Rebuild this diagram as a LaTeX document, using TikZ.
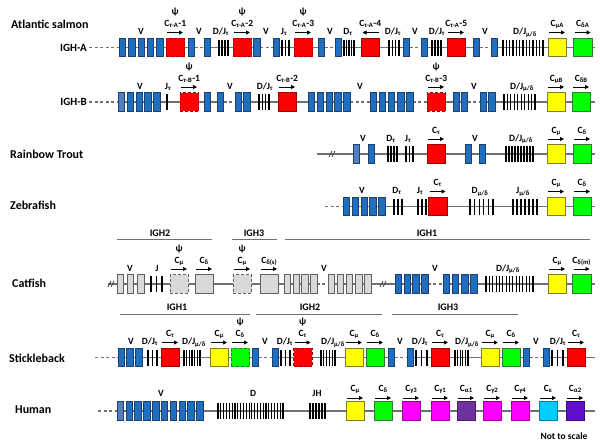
\documentclass[tikz,border=0pt]{standalone}
\usepackage{fontspec}
\setmainfont{Carlito}
\usetikzlibrary{arrows.meta}
\pgfdeclarelayer{background}
\pgfsetlayers{background,main}
\definecolor{vb}{HTML}{1F6FC0}
\definecolor{vbd}{HTML}{1F3F6F}
\definecolor{vl}{HTML}{5080BE}
\definecolor{rd}{HTML}{FF0000}
\definecolor{rdd}{HTML}{A00000}
\definecolor{yl}{HTML}{FFFF00}
\definecolor{yld}{HTML}{7F7F20}
\definecolor{gr}{HTML}{00FF00}
\definecolor{grd}{HTML}{2E7D2E}
\definecolor{gy}{HTML}{D9D9D9}
\definecolor{gyd}{HTML}{606060}
\definecolor{mg}{HTML}{FF00FF}
\definecolor{mgd}{HTML}{A000A0}
\definecolor{pa}{HTML}{7030A0}
\definecolor{pad}{HTML}{4B1E6E}
\definecolor{pb}{HTML}{6010C8}
\definecolor{pbd}{HTML}{3A0A80}
\definecolor{cy}{HTML}{00CCFF}
\definecolor{cyd}{HTML}{0080A0}
\definecolor{ln}{HTML}{707070}
\newcommand\labfont{\fontsize{9.5}{10}\selectfont\bfseries}
\newcommand\spfont{\fontsize{12}{14}\selectfont\bfseries}
\newcommand\ighfont{\fontsize{11}{13}\selectfont\bfseries}
\newcommand\hdfont{\fontsize{10}{12}\selectfont\bfseries}
\newcommand\sbx[1]{\textsubscript{#1}}
\tikzset{
 gl/.style={draw=ln, line width=1.1pt},
 dl/.style={gl, dash pattern=on 3pt off 2.5pt},
 vg/.style={draw=vbd, fill=vb, line width=0.6pt, minimum width=6.5pt, minimum height=18.5pt, inner sep=0pt, outer sep=0pt, anchor=west},
 vgl/.style={vg, fill=vl},
 gg/.style={vg, fill=gy, draw=gyd},
 cb/.style={line width=0.8pt, minimum width=18.5pt, minimum height=18.5pt, inner sep=0pt, outer sep=0pt, anchor=west},
 cr/.style={cb, fill=rd, draw=rdd},
 crp/.style={cr, densely dashed},
 cyel/.style={cb, fill=yl, draw=yld},
 cgrn/.style={cb, fill=gr, draw=grd},
 cgrnp/.style={cgrn, densely dashed},
 cgy/.style={cb, fill=gy, draw=gyd},
 cgyp/.style={cgy, densely dashed},
 cmg/.style={cb, fill=mg, draw=mgd},
 cpa/.style={cb, fill=pa, draw=pad},
 cpb/.style={cb, fill=pb, draw=pbd},
 ccy/.style={cb, fill=cy, draw=cyd},
 lab/.style={font=\labfont, inner sep=0pt, anchor=base},
 sp/.style={font=\spfont, inner sep=0pt, anchor=west},
 igh/.style={font=\ighfont, inner sep=0pt, anchor=east},
 hdl/.style={font=\hdfont, inner sep=0pt},
 hd/.style={draw=ln, line width=0.8pt},
 arr/.style={line width=0.9pt, -{Triangle[length=4pt,width=4pt]}},
 bar/.style={line width=1.1pt, black},
 brk/.style={line width=0.7pt, ln!60!black},
}
\def\cly{21pt}\def\ary{15pt}\def\psy{33pt}
\newcommand\VG[6]{\foreach \i in {1,...,#5}{\node[#1] (#2\i) at ({#3+(\i-1)*#6},#4) {};}}
\newcommand\BR[5]{\coordinate (#1) at ({(#2+#3)/2},#4);
  \foreach \k in {1,...,#5}{\draw[bar] ({#2+(\k-1)*(#3-#2)/(#5-1)},#4-8) -- ++(0,16);}}
\newcommand\CG[5]{\node[#2] (#1) at (#3,#4) {};
  \draw[arr] ([xshift=1pt,yshift=\ary]#1.west) -- ([xshift=-1.5pt,yshift=\ary]#1.east);
  \node[lab] (#1l) at ([yshift=\cly]#1.center) {#5};}
\newcommand\CGL[5]{\node[#2] (#1) at (#3,#4) {};
  \draw[arr] ([xshift=-1pt,yshift=\ary]#1.east) -- ([xshift=1.5pt,yshift=\ary]#1.west);
  \node[lab] (#1l) at ([yshift=\cly]#1.center) {#5};}
\newcommand\PSI[1]{\node[lab] (#1p) at ([yshift=\psy]#1.center) {ψ};}
\newcommand\GAP[2]{\begin{pgfonlayer}{background}\fill[white] ([yshift=-1.5pt]#1.east) rectangle ([yshift=1.5pt]#2.west);
  \draw[dl] (#1.east) -- (#2.west);\end{pgfonlayer}}
\newcommand\BRK[2]{\draw[brk] (#1-3,#2+3) -- (#1,#2-3) (#1,#2+3) -- (#1+3,#2-3);}
\newcommand\BASE[4]{\begin{pgfonlayer}{background}\draw[dl] (#1) -- (#2); \draw[gl] (#2) -- (#3);\end{pgfonlayer}}
\begin{document}
\begin{tikzpicture}[x=1pt,y=-1pt]
\begin{pgfonlayer}{background}\fill[white] (0,0) rectangle (600,445);\end{pgfonlayer}
\useasboundingbox (0,0) rectangle (600,445);
% ---------------- Atlantic salmon IGH-A
\def\Y{47.5}
\node[sp] (tA) at (11,24) {Atlantic salmon};
\node[igh] (iA) at (87,\Y) {IGH-A};
\coordinate (A0) at (89,\Y); \coordinate (A1) at (119,\Y); \coordinate (A9) at (595,\Y);
\BASE{A0}{A1}{A9}{}
\VG{vg}{Aa}{119}{\Y}{5}{9.4}
\node[lab] (Aav) at (141,\Y-13) {V};
\CG{Ac1}{crp}{166}{\Y}{C\sbx{τ-A}-1}\PSI{Ac1}
\node[vg] (Ab1) at (188,\Y) {}; \node[vg] (Ab2) at (204,\Y) {}; \GAP{Ab1}{Ab2}
\node[lab] (Abv1) at (199,\Y-13) {V};
\BR{Ad1}{219}{228}{\Y}{4}\node[lab] (Ad1l) at (221,\Y-13) {D/J\sbx{τ}};
\CG{Ac2}{crp}{233}{\Y}{C\sbx{τ-A}-2}\PSI{Ac2}
\node[vg] (Ab3) at (253.5,\Y) {}; \node[vg] (Ab4) at (273,\Y) {}; \GAP{Ab3}{Ab4}
\node[lab] (Abv2) at (266,\Y-13) {V};
\BR{Ad2}{282}{289}{\Y}{3}\node[lab] (Ad2l) at (284,\Y-13) {J\sbx{τ}};
\CG{Ac3}{crp}{294}{\Y}{C\sbx{τ-A}-3}\PSI{Ac3}
\node[vg] (Ab5) at (318,\Y) {}; \node[vg] (Ab6) at (335,\Y) {}; \GAP{Ab5}{Ab6}
\node[lab] (Abv3) at (330,\Y-13) {V};
\BR{Ad3}{344}{354}{\Y}{5}\node[lab] (Ad3l) at (348,\Y-13) {D\sbx{τ}};
\CGL{Ac4}{cr}{361}{\Y}{C\sbx{τ-A}-4}
\BR{Ad4}{389}{399}{\Y}{4}\node[lab] (Ad4l) at (393,\Y-13) {D/J\sbx{τ}};
\node[vg] (Ab7) at (403,\Y) {}; \node[vg] (Ab8) at (421,\Y) {}; \GAP{Ab7}{Ab8}
\node[lab] (Abv4) at (415,\Y-13) {V};
\BR{Ad5}{432}{441}{\Y}{4}\node[lab] (Ad5l) at (437,\Y-13) {D/J\sbx{τ}};
\CG{Ac5}{cr}{447}{\Y}{C\sbx{τ-A}-5}
\node[vg] (Ab9) at (473,\Y) {}; \node[vg] (Ab10) at (491,\Y) {}; \GAP{Ab9}{Ab10}
\node[lab] (Abv5) at (485,\Y-13) {V};
\BR{Ad6}{503}{543}{\Y}{13}\node[lab] (Ad6l) at (525,\Y-13) {D/J\sbx{μ/δ}};
\CG{Acm}{cyel}{548}{\Y}{C\sbx{μA}}
\CG{Acd}{cgrn}{573.5}{\Y}{C\sbx{δA}}
% ---------------- IGH-B
\def\Y{102}
\node[igh] (iB) at (87,\Y) {IGH-B};
\coordinate (B0) at (89,\Y); \coordinate (B1) at (118,\Y); \coordinate (B9) at (595,\Y);
\BASE{B0}{B1}{B9}{}
\node[vgl] (Ba1) at (118,\Y) {};
\foreach \i in {2,...,5}{\node[vg] (Ba\i) at ({118+(\i-1)*8.9},\Y) {};}
\node[lab] (Bav) at (140,\Y-13) {V};
\coordinate (Bj) at (167,\Y); \draw[bar] (167,\Y-8) -- ++(0,16);
\node[lab] (Bjl) at (168,\Y-13) {J\sbx{τ}};
\CG{Bc1}{crp}{180}{\Y}{C\sbx{τ-B}-1}\PSI{Bc1}
\node[vg] (Bb1) at (204,\Y) {}; \node[vg] (Bb2) at (217,\Y) {};
\node[vg] (Bb3) at (235,\Y) {}; \node[vg] (Bb4) at (243.5,\Y) {}; \GAP{Bb2}{Bb3}
\node[lab] (Bbv) at (230,\Y-13) {V};
\BR{Bd1}{259}{269}{\Y}{4}\node[lab] (Bd1l) at (265,\Y-13) {D/J\sbx{τ}};
\CG{Bc2}{cr}{278}{\Y}{C\sbx{τ-B}-2}
\VG{vg}{Bg}{308}{\Y}{5}{8.9}
\VG{vg}{Bh}{370}{\Y}{5}{9.1}
\GAP{Bg5}{Bh1}
\node[lab] (Bgv) at (360,\Y-13) {V};
\CG{Bc3}{crp}{427}{\Y}{C\sbx{τ-B}-3}\PSI{Bc3}
\GAP{Bh5}{Bc3}
\node[vg] (Bi1) at (453,\Y) {}; \node[vg] (Bi2) at (461,\Y) {};
\node[vg] (Bi3) at (480,\Y) {}; \node[vg] (Bi4) at (488.5,\Y) {}; \GAP{Bi2}{Bi3}
\node[lab] (Biv) at (474,\Y-13) {V};
\BR{Bd2}{504}{535}{\Y}{10}\node[lab] (Bd2l) at (522,\Y-13) {D/J\sbx{μ/δ}};
\CG{Bcm}{cyel}{547}{\Y}{C\sbx{μB}}
\CG{Bcd}{cgrn}{572}{\Y}{C\sbx{δB}}
% ---------------- Rainbow trout
\def\Y{154}
\node[sp] (tR) at (10,\Y) {Rainbow Trout};
\coordinate (R1) at (317,\Y); \coordinate (R9) at (595,\Y);
\BASE{R1}{R1}{R9}{}
\BRK{332}{\Y}
\node[vgl] (Rv1) at (353,\Y) {}; \node[vg] (Rv2) at (368,\Y) {};
\node[lab] (Rvl1) at (363,\Y-13) {V};
\BR{Rd1}{388}{397}{\Y}{4}\node[lab] (Rd1l) at (391,\Y-13) {D\sbx{τ}};
\BR{Rd2}{406}{413}{\Y}{3}\node[lab] (Rd2l) at (408,\Y-13) {J\sbx{τ}};
\CG{Rc}{cr}{427}{\Y}{C\sbx{τ}}
\node[vg] (Rv3) at (465,\Y) {}; \node[vg] (Rv4) at (479,\Y) {};
\node[lab] (Rvl2) at (475,\Y-13) {V};
\BR{Rd3}{506}{533}{\Y}{10}\node[lab] (Rd3l) at (521,\Y-13) {D/J\sbx{μ/δ}};
\CG{Rcm}{cyel}{547}{\Y}{C\sbx{μ}}
\CG{Rcd}{cgrn}{573}{\Y}{C\sbx{δ}}
% ---------------- Zebrafish
\def\Y{206.5}
\node[sp] (tZ) at (10,205) {Zebrafish};
\coordinate (Z0) at (325,\Y); \coordinate (Z1) at (343,\Y); \coordinate (Z9) at (595,\Y);
\BASE{Z0}{Z1}{Z9}{}
\VG{vg}{Zv}{343}{\Y}{5}{8.9}
\node[lab] (Zvl) at (362,\Y-13) {V};
\BR{Zd1}{394}{402}{\Y}{3}\node[lab] (Zd1l) at (397,\Y-13) {D\sbx{τ}};
\BR{Zd2}{418}{426}{\Y}{3}\node[lab] (Zd2l) at (420,\Y-13) {J\sbx{τ}};
\CG{Zc}{cr}{428.5}{\Y}{C\sbx{τ}}
\BR{Zd3}{470}{493}{\Y}{6}\node[lab] (Zd3l) at (480,\Y-13) {D\sbx{μ/δ}};
\BR{Zd4}{513}{537}{\Y}{7}\node[lab] (Zd4l) at (523,\Y-13) {J\sbx{μ/δ}};
\CG{Zcm}{cyel}{547}{\Y}{C\sbx{μ}}
\CG{Zcd}{cgrn}{573}{\Y}{C\sbx{δ}}
% ---------------- Catfish
\def\Y{284}
\node[sp] (tC) at (12,283) {Catfish};
\coordinate (h2a) at (117,239); \coordinate (h2b) at (212,239);
\coordinate (h3a) at (232,239); \coordinate (h3b) at (277,239);
\coordinate (h1a) at (285,239); \coordinate (h1b) at (590,239);
\draw[hd] (h2a) -- (h2b); \draw[hd] (h3a) -- (h3b); \draw[hd] (h1a) -- (h1b);
\node[hdl] (hC2) at (160,233) {IGH2};
\node[hdl] (hC3) at (254,233) {IGH3};
\node[hdl] (hC1) at (427,233) {IGH1};
\coordinate (C1) at (108,\Y); \coordinate (C9) at (595,\Y);
\BASE{C1}{C1}{C9}{}
\BRK{111}{\Y}
\VG{gg}{Cv}{117}{\Y}{3}{10.2}
\node[lab] (Cvl) at (130,\Y-13) {V};
\BR{Cj}{151}{162}{\Y}{3}\node[lab] (Cjl) at (157,\Y-13) {J};
\CG{Cc1}{cgyp}{170}{\Y}{C\sbx{μ}}\PSI{Cc1}
\CG{Cc2}{cgy}{195}{\Y}{C\sbx{δ}}
\CG{Cc3}{cgyp}{233}{\Y}{C\sbx{μ}}\PSI{Cc3}
\CG{Cc4}{cgy}{260}{\Y}{C\sbx{δ(s)}}
\VG{gg}{Cw}{284}{\Y}{4}{8.8}
\VG{gg}{Cx}{328}{\Y}{5}{9.1}
\GAP{Cw4}{Cx1}
\node[lab] (Cwl) at (324,\Y-13) {V};
\BRK{383}{\Y}
\VG{vg}{Cy}{395}{\Y}{4}{8.8}
\VG{vg}{Cz}{443}{\Y}{4}{9.2}
\GAP{Cy4}{Cz1}
\node[lab] (Cyl) at (435,\Y-13) {V};
\BR{Cd}{486}{533}{\Y}{15}\node[lab] (Cdl) at (508,\Y-13) {D/J\sbx{μ/δ}};
\CG{Ccm}{cyel}{548}{\Y}{C\sbx{μ}}
\CG{Ccd}{cgrn}{572.5}{\Y}{C\sbx{δ(m)}}
% ---------------- Stickleback
\def\Y{357.5}
\node[sp] (tS) at (9,358) {Stickleback};
\coordinate (s1a) at (120,314); \coordinate (s1b) at (250,314);
\coordinate (s2a) at (256,314); \coordinate (s2b) at (382,314);
\coordinate (s3a) at (392,314); \coordinate (s3b) at (518,314);
\draw[hd] (s1a) -- (s1b); \draw[hd] (s2a) -- (s2b); \draw[hd] (s3a) -- (s3b);
\node[hdl] (hS1) at (177,307) {IGH1};
\node[hdl] (hS2) at (310,307) {IGH2};
\node[hdl] (hS3) at (448,307) {IGH3};
\coordinate (S0) at (95,\Y); \coordinate (S1) at (118,\Y); \coordinate (S9) at (595,\Y);
\BASE{S0}{S1}{S9}{}
\VG{vg}{Sv}{118}{\Y}{3}{8.75}
\node[lab] (Svl) at (131,\Y-13) {V};
\BR{Sd1}{148}{157}{\Y}{3}\node[lab] (Sd1l) at (150,\Y-13) {D/J\sbx{τ}};
\CG{Sc1}{cr}{161}{\Y}{C\sbx{τ}}
\BR{Sd2}{184}{200}{\Y}{7}\node[lab] (Sd2l) at (194,\Y-13) {D/J\sbx{μ/δ}};
\CG{Sm1}{cyel}{210}{\Y}{C\sbx{μ}}
\CG{Sg1}{cgrnp}{231}{\Y}{C\sbx{δ}}\PSI{Sg1}
\node[vg] (Sb1) at (252,\Y) {}; \node[vg] (Sb2) at (272,\Y) {}; \GAP{Sb1}{Sb2}
\node[lab] (Sbl1) at (265,\Y-13) {V};
\BR{Sd3}{281}{290}{\Y}{3}\node[lab] (Sd3l) at (285,\Y-13) {D/J\sbx{τ}};
\CG{Sc2}{crp}{293.5}{\Y}{C\sbx{τ}}\PSI{Sc2}
\BR{Sd4}{321}{335}{\Y}{6}\node[lab] (Sd4l) at (333,\Y-13) {D/J\sbx{μ/δ}};
\CG{Sm2}{cyel}{345}{\Y}{C\sbx{μ}}
\CG{Sg2}{cgrn}{366}{\Y}{C\sbx{δ}}
\node[vg] (Sb3) at (388,\Y) {}; \node[vg] (Sb4) at (407,\Y) {}; \GAP{Sb3}{Sb4}
\node[lab] (Sbl2) at (400,\Y-13) {V};
\BR{Sd5}{416}{427}{\Y}{3}\node[lab] (Sd5l) at (420,\Y-13) {D/J\sbx{τ}};
\CG{Sc3}{cr}{431}{\Y}{C\sbx{τ}}
\BR{Sd6}{455}{468}{\Y}{6}\node[lab] (Sd6l) at (467,\Y-13) {D/J\sbx{μ/δ}};
\CG{Sm3}{cyel}{481}{\Y}{C\sbx{μ}}
\CG{Sg3}{cgrn}{502}{\Y}{C\sbx{δ}}
\node[vg] (Sb5) at (523,\Y) {}; \node[vg] (Sb6) at (543,\Y) {}; \GAP{Sb5}{Sb6}
\node[lab] (Sbl3) at (536,\Y-13) {V};
\BR{Sd7}{552}{563}{\Y}{3}\node[lab] (Sd7l) at (558,\Y-13) {D/J\sbx{τ}};
\CG{Sc4}{cr}{567}{\Y}{C\sbx{τ}}
% ---------------- Human
\def\Y{411}\def\cly{20pt}\def\ary{13pt}
\node[sp] (tH) at (15,410) {Human};
\coordinate (H0) at (98,\Y); \coordinate (H1) at (117,\Y); \coordinate (H9) at (595,\Y);
\BASE{H0}{H1}{H9}{}
\node[vgl] (Hv1) at (117,\Y) {};
\foreach \i in {2,...,10}{\node[vg] (Hv\i) at ({117+(\i-1)*8.83},\Y) {};}
\node[lab] (Hvl) at (161,\Y-15) {V};
\BR{Hd1}{218}{283}{\Y}{24}\node[lab] (Hd1l) at (253,\Y-15) {D};
\BR{Hd2}{310}{325}{\Y}{6}\node[lab] (Hd2l) at (317,\Y-15) {JH};
\CG{Hc1}{cyel}{346}{\Y}{C\sbx{μ}}
\CG{Hc2}{cgrn}{374}{\Y}{C\sbx{δ}}
\CG{Hc3}{cmg}{402}{\Y}{C\sbx{γ3}}
\CG{Hc4}{cmg}{431}{\Y}{C\sbx{γ1}}
\CG{Hc5}{cpa}{457}{\Y}{C\sbx{α1}}
\CG{Hc6}{cmg}{483}{\Y}{C\sbx{γ2}}
\CG{Hc7}{cmg}{511}{\Y}{C\sbx{γ4}}
\CG{Hc8}{ccy}{539}{\Y}{C\sbx{ε}}
\CG{Hc9}{cpb}{566}{\Y}{C\sbx{α2}}
\node[lab, anchor=center] (nts) at (564,436) {Not to scale};
\end{tikzpicture}
\end{document}
